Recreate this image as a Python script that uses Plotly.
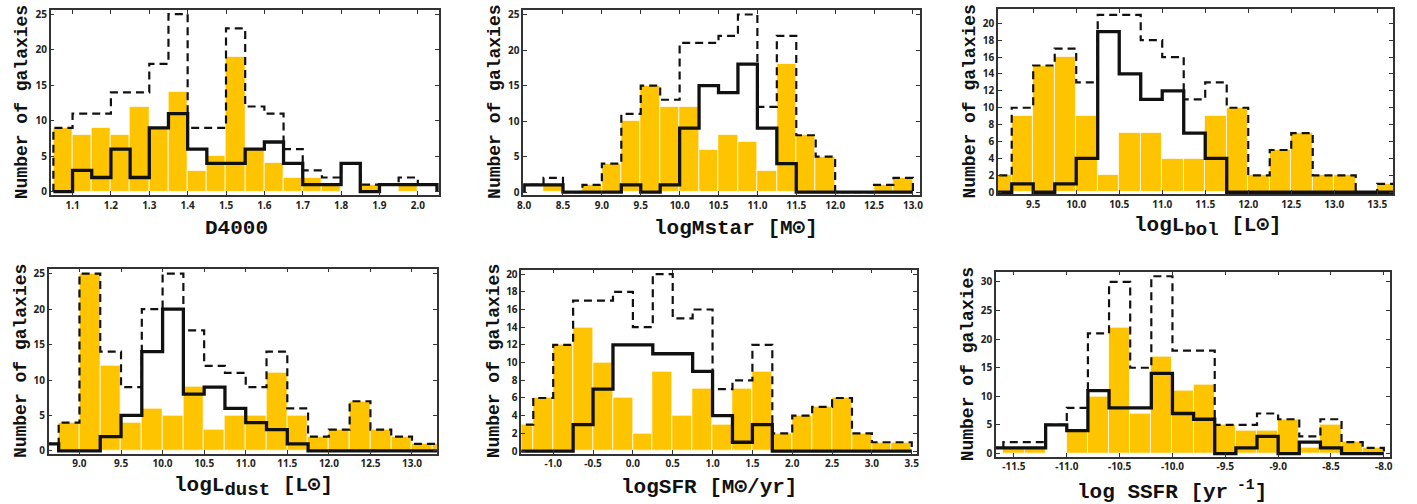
import numpy as np
import plotly.graph_objects as go

# ---------------- histogram counts (per bin) ----------------
# D4000: bins of 0.05 starting at 1.05
d4000_lo, d4000_bw = 1.05, 0.05
d4000_fill = [9, 8, 9, 8, 12, 9, 14, 3, 5, 19, 6, 4, 2, 2, 1, 0, 1, 0, 1, 0]
d4000_line = [0, 3, 2, 6, 2, 9, 11, 6, 4, 4, 6, 7, 4, 1, 1, 4, 0, 1, 1, 1]
d4000_total = [9, 11, 11, 14, 14, 18, 25, 9, 9, 23, 12, 11, 6, 3, 2, 4, 1, 1, 2, 1]

# logMstar: bins of 0.25 starting at 8.0
mstar_lo, mstar_bw = 8.0, 0.25
mstar_fill = [0, 1, 0, 1, 4, 10, 15, 12, 12, 6, 8, 7, 3, 18, 8, 5, 0, 0, 1, 2]
mstar_line = [1, 1, 0, 0, 0, 1, 0, 1, 9, 15, 14, 18, 9, 4, 0, 0, 0, 0, 0, 0]
mstar_total = [1, 2, 0, 1, 4, 11, 15, 13, 21, 21, 22, 25, 12, 22, 8, 5, 0, 0, 1, 2]

# logLbol: bins of 0.25 starting at 9.0
lbol_lo, lbol_bw = 9.0, 0.25
lbol_fill = [2, 9, 15, 16, 9, 2, 7, 7, 4, 4, 9, 10, 2, 5, 7, 2, 2, 0, 1]
lbol_line = [0, 1, 0, 1, 4, 19, 14, 11, 12, 7, 4, 0, 0, 0, 0, 0, 0, 0, 0]
lbol_total = [2, 10, 15, 17, 13, 21, 21, 18, 16, 11, 13, 10, 2, 5, 7, 2, 2, 0, 1]

# logLdust: bins of 0.25 starting at 8.5
ldust_lo, ldust_bw = 8.5, 0.25
ldust_fill = [0, 4, 25, 12, 4, 6, 5, 9, 3, 5, 5, 11, 5, 2, 3, 7, 3, 2, 1, 1]
ldust_line = [1, 0, 0, 2, 5, 14, 20, 8, 9, 6, 4, 3, 1, 0, 0, 0, 0, 0, 0, 0]
ldust_total = [1, 4, 25, 14, 9, 20, 25, 17, 12, 11, 9, 14, 6, 2, 3, 7, 3, 2, 1, 1]

# logSFR: bins of 0.25 starting at -1.5
sfr_lo, sfr_bw = -1.5, 0.25
sfr_fill = [3, 6, 12, 14, 10, 6, 2, 9, 4, 7, 3, 7, 9, 2, 4, 5, 6, 2, 1, 1]
sfr_line = [0, 0, 0, 3, 7, 12, 12, 11, 11, 9, 4, 1, 3, 0, 0, 0, 0, 0, 0, 0]
sfr_total = [3, 6, 12, 17, 17, 18, 14, 20, 15, 16, 7, 8, 12, 2, 4, 5, 6, 2, 1, 1]

# log SSFR: bins of 0.2 starting at -11.8
ssfr_lo, ssfr_bw = -11.8, 0.2
ssfr_fill = [0, 1, 1, 0, 4, 10, 22, 7, 17, 11, 12, 5, 4, 4, 6, 1, 5, 2, 1]
ssfr_line = [1, 1, 1, 5, 4, 11, 8, 8, 14, 7, 6, 0, 1, 3, 0, 2, 1, 0, 0]
ssfr_total = [1, 2, 2, 5, 8, 21, 30, 15, 31, 18, 18, 5, 5, 7, 6, 3, 6, 2, 1]

# ---------------- tick values ----------------
d4000_xticks = [1.1, 1.2, 1.3, 1.4, 1.5, 1.6, 1.7, 1.8, 1.9, 2.0]
mstar_xticks = [8.0, 8.5, 9.0, 9.5, 10.0, 10.5, 11.0, 11.5, 12.0, 12.5, 13.0]
lbol_xticks = [9.5, 10.0, 10.5, 11.0, 11.5, 12.0, 12.5, 13.0, 13.5]
ldust_xticks = [9.0, 9.5, 10.0, 10.5, 11.0, 11.5, 12.0, 12.5, 13.0]
sfr_xticks = [-1.0, -0.5, 0.0, 0.5, 1.0, 1.5, 2.0, 2.5, 3.0, 3.5]
ssfr_xticks = [-11.5, -11.0, -10.5, -10.0, -9.5, -9.0, -8.5, -8.0]
yticks_25 = [0, 5, 10, 15, 20, 25]
yticks_20 = [0, 2, 4, 6, 8, 10, 12, 14, 16, 18, 20]
yticks_30 = [0, 5, 10, 15, 20, 25, 30]

# ---------------- axis titles ----------------
SUB = '<sub><span style="font-size:19px">{}</span></sub>'
d4000_title = "D4000"
mstar_title = "logMstar [M⊙]"
lbol_title = "logL" + SUB.format("bol") + " [L⊙]"
ldust_title = "logL" + SUB.format("dust") + " [L⊙]"
sfr_title = "logSFR [M⊙/yr]"
ssfr_title = "log SSFR [yr<sup> -1</sup>]"
y_title = "Number of galaxies"

W, H = 1417, 504
GOLD = "#FFC400"
INK = "#111111"
FRAME = "#333333"
MONO = "Liberation Mono, Courier New, monospace"
SANS = "Noto Sans, DejaVu Sans, sans-serif"

# panel layout: pixel box (left, right, top, bottom), title centre, axis ranges
panels = [
    dict(lo=d4000_lo, bw=d4000_bw, fill=d4000_fill, line=d4000_line, total=d4000_total,
         xt=d4000_xticks, yt=yticks_25, xr=[1.043, 2.055], yr=[-0.45, 25.6],
         box=(45, 436, 7, 195), tx=232, title=d4000_title),
    dict(lo=mstar_lo, bw=mstar_bw, fill=mstar_fill, line=mstar_line, total=mstar_total,
         xt=mstar_xticks, yt=yticks_25, xr=[7.99, 13.085], yr=[-0.4, 25.65],
         box=(521, 920, 7, 195), tx=735, title=mstar_title),
    dict(lo=lbol_lo, bw=lbol_bw, fill=lbol_fill, line=lbol_line, total=lbol_total,
         xt=lbol_xticks, yt=yticks_20, xr=[9.09, 13.685], yr=[-0.2, 21.7],
         box=(999, 1397, 6, 194), tx=1211, title=lbol_title),
    dict(lo=ldust_lo, bw=ldust_bw, fill=ldust_fill, line=ldust_line, total=ldust_total,
         xt=ldust_xticks, yt=yticks_25, xr=[8.63, 13.3], yr=[-0.4, 25.7],
         box=(43, 434, 270, 458), tx=249, title=ldust_title),
    dict(lo=sfr_lo, bw=sfr_bw, fill=sfr_fill, line=sfr_line, total=sfr_total,
         xt=sfr_xticks, yt=yticks_20, xr=[-1.40, 3.56], yr=[-0.3, 20.5],
         box=(519, 917, 271, 458), tx=708, title=sfr_title),
    dict(lo=ssfr_lo, bw=ssfr_bw, fill=ssfr_fill, line=ssfr_line, total=ssfr_total,
         xt=ssfr_xticks, yt=yticks_30, xr=[-11.67, -7.94], yr=[-0.55, 31.8],
         box=(997, 1394, 273, 461), tx=1174, title=ssfr_title),
]


def step_outline(lo, bw, counts):
    """Histogram outline as a step path (for line_shape='hv')."""
    counts = list(counts)
    edges = lo + bw * np.arange(len(counts) + 1)
    xs = [edges[0]] + list(edges[:-1]) + [edges[-1], edges[-1]]
    ys = [0] + counts + [counts[-1], 0]
    return xs, ys


fig = go.Figure()
layout = dict(
    width=W, height=H,
    margin=dict(l=0, r=0, t=0, b=0),
    paper_bgcolor="white", plot_bgcolor="white",
    showlegend=False, barmode="overlay", bargap=0,
    annotations=[],
)

for i, p in enumerate(panels, start=1):
    xa = "x" if i == 1 else f"x{i}"
    ya = "y" if i == 1 else f"y{i}"
    n = len(p["fill"])
    centers = p["lo"] + p["bw"] * (np.arange(n) + 0.5)

    fig.add_trace(go.Bar(
        x=centers, y=p["fill"], width=p["bw"],
        marker=dict(color=GOLD, line=dict(color="rgba(255,255,255,0.75)", width=1)),
        xaxis=xa, yaxis=ya, hoverinfo="skip",
    ))
    tx, ty = step_outline(p["lo"], p["bw"], p["total"])
    fig.add_trace(go.Scatter(
        x=tx, y=ty, mode="lines", line_shape="hv",
        line=dict(color=INK, width=2.2, dash="8px,5px"),
        xaxis=xa, yaxis=ya, hoverinfo="skip",
    ))
    sx, sy = step_outline(p["lo"], p["bw"], p["line"])
    fig.add_trace(go.Scatter(
        x=sx, y=sy, mode="lines", line_shape="hv",
        line=dict(color=INK, width=3.3),
        xaxis=xa, yaxis=ya, hoverinfo="skip",
    ))

    left, right, top, bottom = p["box"]
    axis_common = dict(
        showgrid=False, zeroline=False,
        showline=True, linecolor=FRAME, linewidth=1.5, mirror="ticks",
        ticks="inside", ticklen=4, tickwidth=1.2, tickcolor=FRAME,
        tickfont=dict(family=SANS, size=10, color="#222222", weight="bold"),
        fixedrange=True,
    )
    layout["xaxis" if i == 1 else f"xaxis{i}"] = dict(
        axis_common, anchor=ya,
        domain=[left / W, right / W], range=p["xr"],
        tickmode="array", tickvals=p["xt"],
        ticktext=[f"{v:.1f}" for v in p["xt"]],
    )
    layout["yaxis" if i == 1 else f"yaxis{i}"] = dict(
        axis_common, anchor=xa,
        domain=[1 - bottom / H, 1 - top / H], range=p["yr"],
        tickmode="array", tickvals=p["yt"], ticktext=[str(v) for v in p["yt"]],
    )

    # x-axis title below the panel
    layout["annotations"].append(dict(
        text=p["title"], xref="paper", yref="paper",
        x=p["tx"] / W, y=1 - (bottom + 34) / H,
        xanchor="center", yanchor="middle", showarrow=False,
        font=dict(family=MONO, size=21, color=INK, weight="bold"),
    ))
    # y-axis title left of the panel
    layout["annotations"].append(dict(
        text=y_title, xref="paper", yref="paper",
        x=(left - 28) / W, y=1 - (top + bottom) / 2 / H,
        xanchor="center", yanchor="middle", textangle=-90, showarrow=False,
        font=dict(family=MONO, size=18, color=INK, weight="bold"),
    ))

fig.update_layout(**layout)
fig.write_html("out.html")
